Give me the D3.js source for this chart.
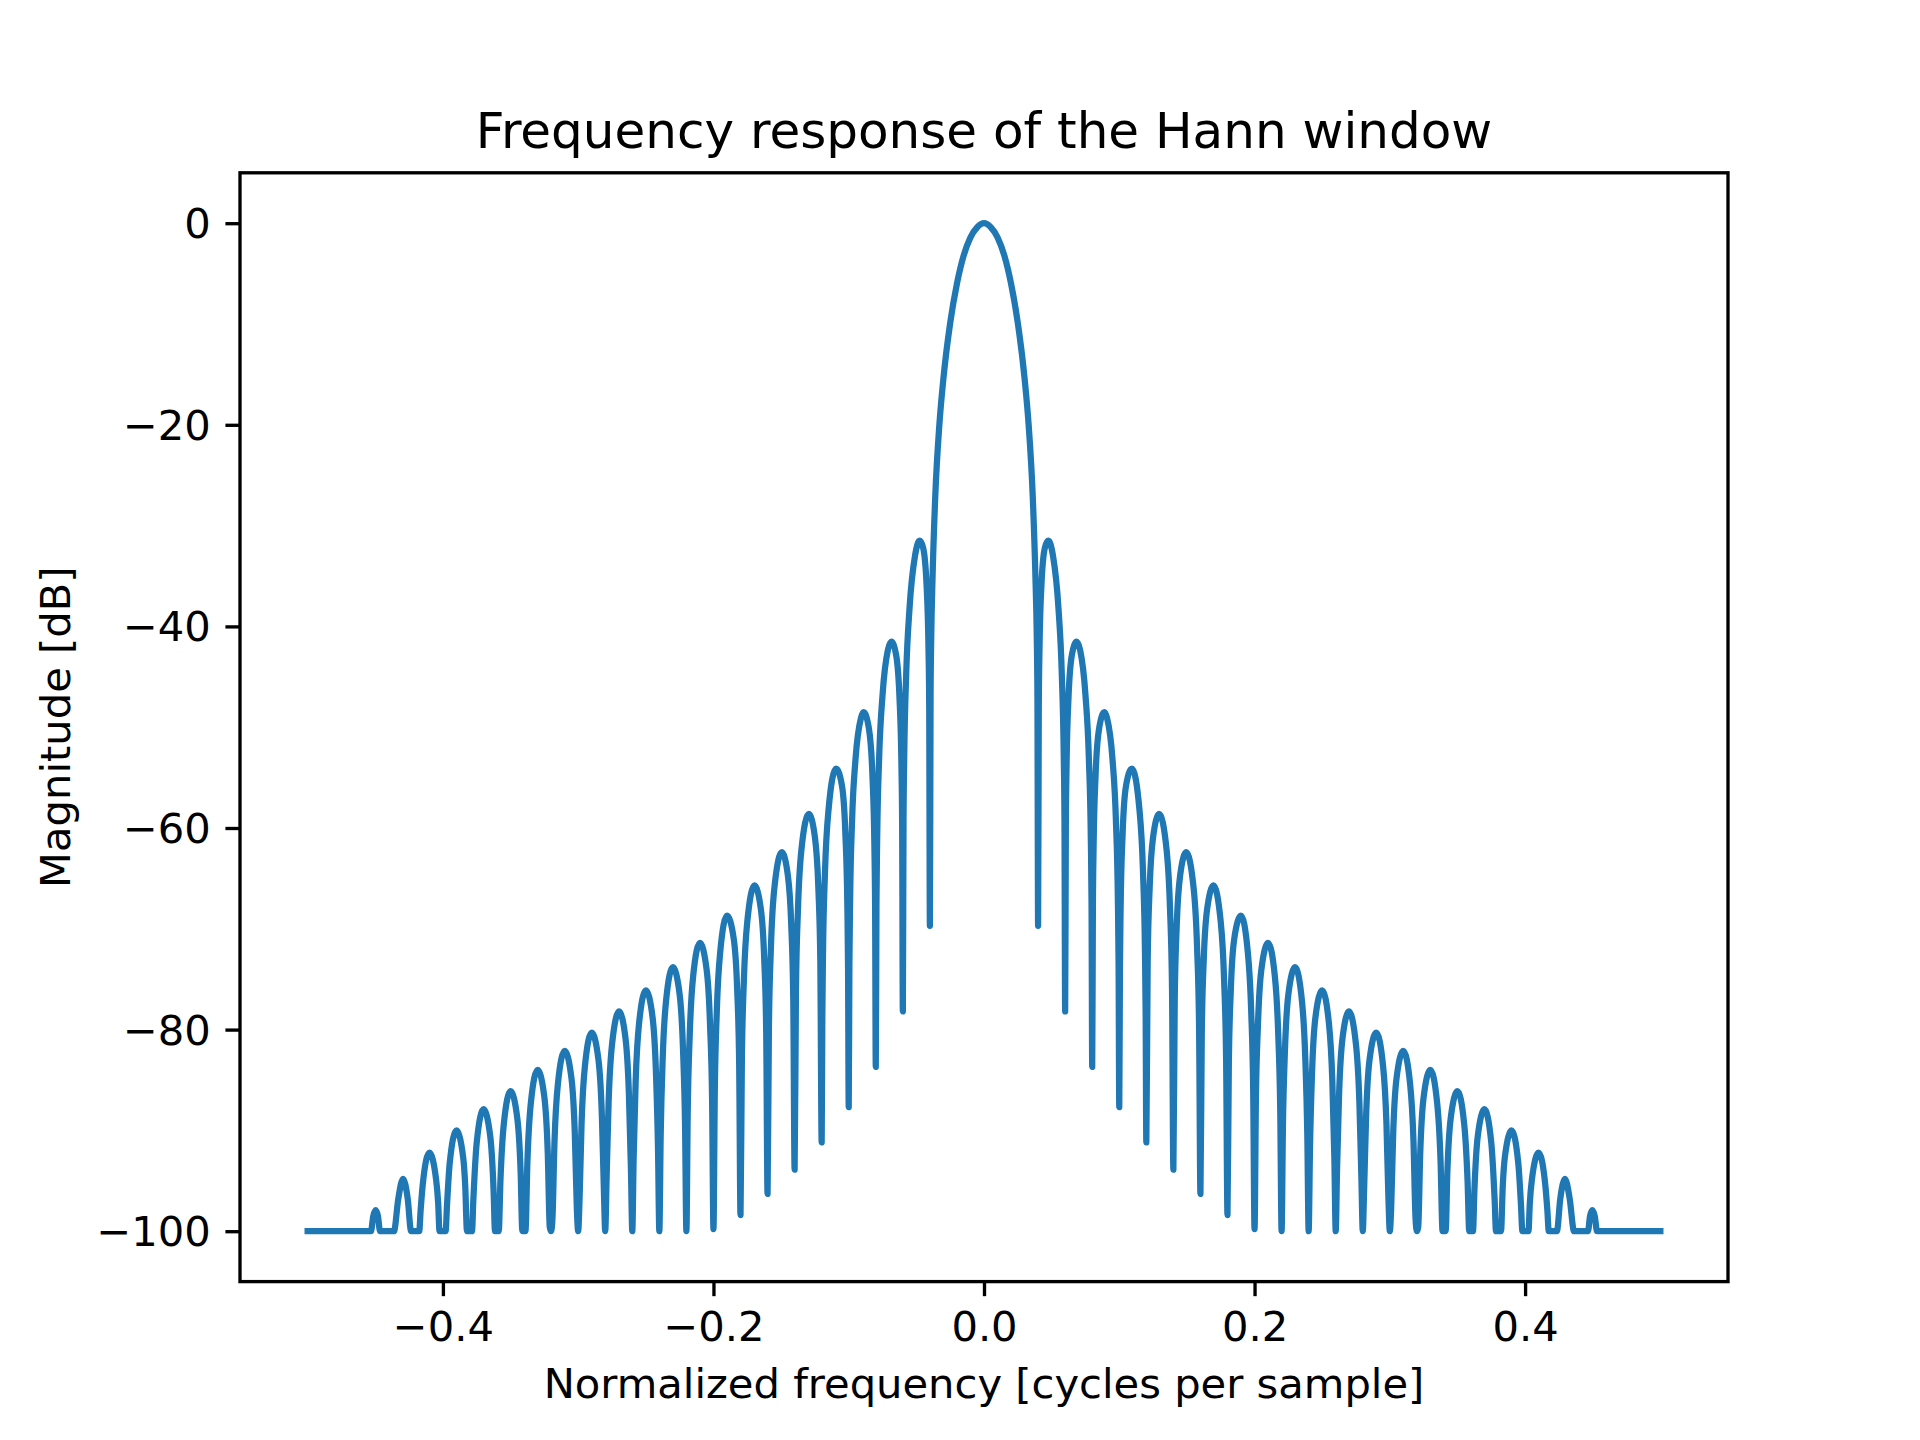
<!DOCTYPE html>
<html>
<head>
<meta charset="utf-8">
<script src="https://d3js.org/d3.v7.min.js"></script>
<style>
  body { margin: 0; background: #fff; }
  text { font-family: "DejaVu Sans", sans-serif; fill: #000; }
</style>
</head>
<body>
<svg id="chart" width="1920" height="1440"></svg>
<script>
// Values (dB clipped at -100).
const mainFreq = [-0.04, -0.0395, -0.039, -0.038, -0.036, -0.033, -0.03, -0.025, -0.02, -0.015, -0.01, -0.005, 0,
    0.005, 0.01, 0.015, 0.02, 0.025, 0.03, 0.033, 0.036, 0.038, 0.039, 0.0395, 0.04];
const mainDb = [-69.7, -47.0, -41.0, -35.0, -27.0, -20.0, -15.4, -9.9, -6.0, -3.2, -1.4, -0.4, 0,
    -0.4, -1.4, -3.2, -6.0, -9.9, -15.4, -20.0, -27.0, -35.0, -41.0, -47.0, -69.7];

const leftFreq = [
    -0.5,
    -0.4532, -0.4515, -0.4497, -0.448, -0.4465,
    -0.4362, -0.433, -0.4295, -0.426, -0.4235,
    -0.42, -0.4175, -0.4165, -0.415, -0.41, -0.405, -0.4035, -0.4025,
    -0.4, -0.398, -0.397, -0.395, -0.39, -0.385, -0.3835, -0.3822,
    -0.38, -0.3785, -0.3775, -0.375, -0.37, -0.365, -0.3625, -0.3615,
    -0.36, -0.3587, -0.3575, -0.355, -0.35, -0.345, -0.3425, -0.3413,
    -0.34, -0.339, -0.3375, -0.335, -0.33, -0.325, -0.3225, -0.321,
    -0.32, -0.319, -0.3175, -0.315, -0.31, -0.305, -0.3025, -0.301,
    -0.3, -0.299, -0.2975, -0.295, -0.29, -0.285, -0.2825, -0.281,
    -0.28, -0.279, -0.2775, -0.275, -0.2698, -0.265, -0.2625, -0.261,
    -0.26, -0.259, -0.2575, -0.255, -0.25, -0.245, -0.2425, -0.241,
    -0.24, -0.239, -0.2375, -0.235, -0.23, -0.225, -0.2225, -0.221,
    -0.22, -0.219, -0.2175, -0.215, -0.21, -0.205, -0.2025, -0.201,
    -0.2, -0.199, -0.1975, -0.195, -0.19, -0.185, -0.1825, -0.181,
    -0.18, -0.179, -0.1775, -0.175, -0.1697, -0.165, -0.1625, -0.161,
    -0.16, -0.159, -0.1575, -0.155, -0.1495, -0.145, -0.1425, -0.141,
    -0.14, -0.139, -0.1375, -0.135, -0.1295, -0.125, -0.1225, -0.121,
    -0.12, -0.1195, -0.119, -0.1175, -0.115, -0.1094, -0.105, -0.1025, -0.101, -0.1005,
    -0.1, -0.0995, -0.099, -0.0975, -0.095, -0.091, -0.089, -0.085, -0.0825, -0.081, -0.0805,
    -0.08, -0.0795, -0.079, -0.0775, -0.075, -0.071, -0.0685, -0.065, -0.0625, -0.061, -0.0605,
    -0.06, -0.0595, -0.059, -0.0575, -0.055, -0.051, -0.0476, -0.045, -0.0425, -0.041, -0.0405
];
const leftDb = [
    -100,
    -100, -98.5, -97.9, -98.5, -100,
    -100, -96.8, -94.8, -96.8, -100,
    -100, -100, -98.0, -95.5, -92.2, -94.9, -97.2, -100,
    -100, -100, -97.5, -93.3, -90.0, -92.7, -95.5, -100,
    -100, -100, -96.9, -91.2, -87.9, -90.6, -96.1, -100,
    -100, -100, -95.1, -89.4, -86.1, -88.8, -94.3, -100,
    -100, -100, -93.0, -87.3, -84.0, -86.7, -92.2, -99.6,
    -100, -98.7, -91.1, -85.4, -82.1, -84.8, -90.3, -97.7,
    -100, -96.9, -89.3, -83.6, -80.3, -83.0, -88.5, -95.9,
    -100, -94.8, -87.2, -81.5, -78.2, -80.9, -86.4, -93.8,
    -100, -92.7, -85.1, -79.4, -76.1, -78.8, -84.3, -91.7,
    -100, -90.4, -82.8, -77.1, -73.8, -76.5, -82.0, -89.4,
    -100, -88.0, -80.4, -74.7, -71.4, -74.1, -79.6, -87.0,
    -99.8, -86.1, -78.1, -72.3, -68.7, -71.0, -75.9, -83.3,
    -98.4, -83.1, -75.1, -69.3, -65.7, -68.0, -72.9, -80.3,
    -96.3, -79.8, -71.8, -66.0, -62.4, -64.7, -69.6, -77.0,
    -93.9, -76.0, -68.0, -62.2, -58.6, -60.9, -65.8, -73.2,
    -91.2, -78.4, -72.3, -64.2, -58.3, -54.1, -55.8, -60.5, -67.9, -73.8,
    -87.7, -73.5, -67.4, -59.2, -53.2, -49.1, -48.5, -50.2, -54.7, -62.0, -67.8,
    -83.7, -67.4, -61.3, -53.0, -46.8, -42.3, -41.5, -42.8, -47.0, -54.1, -60.0,
    -78.2, -59.4, -53.2, -44.7, -38.1, -33.0, -31.5, -32.2, -35.8, -42.4, -48.0
];

const rightFreq = [
    0.0405, 0.041, 0.0425, 0.045, 0.0476, 0.051, 0.055, 0.0575, 0.059, 0.0595, 0.06,
    0.0605, 0.061, 0.0625, 0.065, 0.0685, 0.071, 0.075, 0.0775, 0.079, 0.0795, 0.08,
    0.0805, 0.081, 0.0825, 0.085, 0.089, 0.091, 0.095, 0.0975, 0.099, 0.0995, 0.1,
    0.1005, 0.101, 0.1025, 0.105, 0.1094, 0.115, 0.1175, 0.119, 0.1195, 0.12,
    0.121, 0.1225, 0.125, 0.1295, 0.135, 0.1375, 0.139, 0.14,
    0.141, 0.1425, 0.145, 0.1495, 0.155, 0.1575, 0.159, 0.16,
    0.161, 0.1625, 0.165, 0.1697, 0.175, 0.1775, 0.179, 0.18,
    0.181, 0.1825, 0.185, 0.19, 0.195, 0.1975, 0.199, 0.2,
    0.201, 0.2025, 0.205, 0.21, 0.215, 0.2175, 0.219, 0.22,
    0.221, 0.2225, 0.225, 0.23, 0.235, 0.2375, 0.239, 0.24,
    0.241, 0.2425, 0.245, 0.25, 0.255, 0.2575, 0.259, 0.26,
    0.261, 0.2625, 0.265, 0.2698, 0.275, 0.2775, 0.279, 0.28,
    0.281, 0.2825, 0.285, 0.29, 0.295, 0.2975, 0.299, 0.3,
    0.301, 0.3025, 0.305, 0.31, 0.315, 0.3175, 0.319, 0.32,
    0.321, 0.3225, 0.325, 0.33, 0.335, 0.3375, 0.339, 0.34,
    0.3413, 0.3425, 0.345, 0.35, 0.355, 0.3575, 0.3587, 0.36,
    0.3615, 0.3625, 0.365, 0.37, 0.375, 0.3775, 0.3785, 0.38,
    0.3822, 0.3835, 0.385, 0.39, 0.395, 0.397, 0.398, 0.4,
    0.4025, 0.4035, 0.405, 0.41, 0.415, 0.4165, 0.4175, 0.42,
    0.4235, 0.426, 0.4295, 0.433, 0.4362,
    0.4465, 0.448, 0.4497, 0.4515, 0.4532,
    0.5
];
const rightDb = [
    -48.0, -42.4, -35.8, -32.2, -31.5, -33.0, -38.1, -44.7, -53.2, -59.4, -78.2,
    -60.0, -54.1, -47.0, -42.8, -41.5, -42.3, -46.8, -53.0, -61.3, -67.4, -83.7,
    -67.8, -62.0, -54.7, -50.2, -48.5, -49.1, -53.2, -59.2, -67.4, -73.5, -87.7,
    -73.8, -67.9, -60.5, -55.8, -54.1, -58.3, -64.2, -72.3, -78.4, -91.2,
    -73.2, -65.8, -60.9, -58.6, -62.2, -68.0, -76.0, -93.9,
    -77.0, -69.6, -64.7, -62.4, -66.0, -71.8, -79.8, -96.3,
    -80.3, -72.9, -68.0, -65.7, -69.3, -75.1, -83.1, -98.4,
    -83.3, -75.9, -71.0, -68.7, -72.3, -78.1, -86.1, -99.8,
    -87.0, -79.6, -74.1, -71.4, -74.7, -80.4, -88.0, -100,
    -89.4, -82.0, -76.5, -73.8, -77.1, -82.8, -90.4, -100,
    -91.7, -84.3, -78.8, -76.1, -79.4, -85.1, -92.7, -100,
    -93.8, -86.4, -80.9, -78.2, -81.5, -87.2, -94.8, -100,
    -95.9, -88.5, -83.0, -80.3, -83.6, -89.3, -96.9, -100,
    -97.7, -90.3, -84.8, -82.1, -85.4, -91.1, -98.7, -100,
    -99.6, -92.2, -86.7, -84.0, -87.3, -93.0, -100, -100,
    -100, -94.3, -88.8, -86.1, -89.4, -95.1, -100, -100,
    -100, -96.1, -90.6, -87.9, -91.2, -96.9, -100, -100,
    -100, -95.5, -92.7, -90.0, -93.3, -97.5, -100, -100,
    -100, -97.2, -94.9, -92.2, -95.5, -98.0, -100, -100,
    -100, -96.8, -94.8, -96.8, -100,
    -100, -98.5, -97.9, -98.5, -100,
    -100
];

const xTicks = [-0.4, -0.2, 0.0, 0.2, 0.4];
const yTicks = [0, -20, -40, -60, -80, -100];

const titleText = "Frequency response of the Hann window";
const xLabelText = "Normalized frequency [cycles per sample]";
const yLabelText = "Magnitude [dB]";

function buildSeries() {
    const pts = [];
    leftFreq.forEach((f, i) => pts.push({f, db: leftDb[i]}));
    mainFreq.forEach((f, i) => pts.push({f, db: mainDb[i]}));
    rightFreq.forEach((f, i) => pts.push({f, db: rightDb[i]}));
    return pts;
}

function drawChart() {
    const svg = d3.select("#chart");
    const left = 240, top = 172.8, width = 1488, height = 1108.8;
    const fontPx = 41.67;
    const tick = 14.58;

    const x = d3.scaleLinear().domain([-0.55, 0.55]).range([left, left + width]);
    const y = d3.scaleLinear().domain([-105, 5]).range([top + height, top]);

    svg.append("rect").attr("width", 1920).attr("height", 1440).attr("fill", "#fff");

    const data = buildSeries();
    const line = d3.line()
        .x(d => x(d.f))
        .y(d => y(d.db))
        .curve(d3.curveMonotoneX);

    svg.append("path")
        .datum(data)
        .attr("d", line)
        .attr("fill", "none")
        .attr("stroke", "#1f77b4")
        .attr("stroke-width", 6.25)
        .attr("stroke-linejoin", "round")
        .attr("stroke-linecap", "square");

    const xAxis = svg.append("g")
        .attr("transform", `translate(0,${top + height})`)
        .call(d3.axisBottom(x).tickValues(xTicks).tickFormat(d3.format(".1f"))
            .tickSize(tick).tickPadding(tick));
    const yAxis = svg.append("g")
        .attr("transform", `translate(${left},0)`)
        .call(d3.axisLeft(y).tickValues(yTicks).tickFormat(d3.format("d"))
            .tickSize(tick).tickPadding(tick));

    [xAxis, yAxis].forEach(g => {
        g.select(".domain").remove();
        g.attr("font-family", "DejaVu Sans").attr("font-size", fontPx);
        g.selectAll(".tick line").attr("stroke", "#000").attr("stroke-width", 3.33);
        g.selectAll(".tick text").attr("fill", "#000");
    });
    xAxis.selectAll(".tick text").attr("dy", null).attr("y", tick + tick + 30.5);
    yAxis.selectAll(".tick text").attr("dy", null).attr("dominant-baseline", "central");

    // spines
    svg.append("rect")
        .attr("x", left).attr("y", top)
        .attr("width", width).attr("height", height)
        .attr("fill", "none")
        .attr("stroke", "#000")
        .attr("stroke-width", 3.33);

    svg.append("text")
        .attr("x", left + width / 2).attr("y", 147.8)
        .attr("text-anchor", "middle")
        .attr("font-size", 50)
        .text(titleText);

    svg.append("text")
        .attr("x", left + width / 2).attr("y", 1398)
        .attr("text-anchor", "middle")
        .attr("font-size", fontPx)
        .text(xLabelText);

    svg.append("text")
        .attr("transform", `translate(70,${top + height / 2}) rotate(-90)`)
        .attr("text-anchor", "middle")
        .attr("font-size", fontPx)
        .text(yLabelText);
}

drawChart();
</script>
</body>
</html>
